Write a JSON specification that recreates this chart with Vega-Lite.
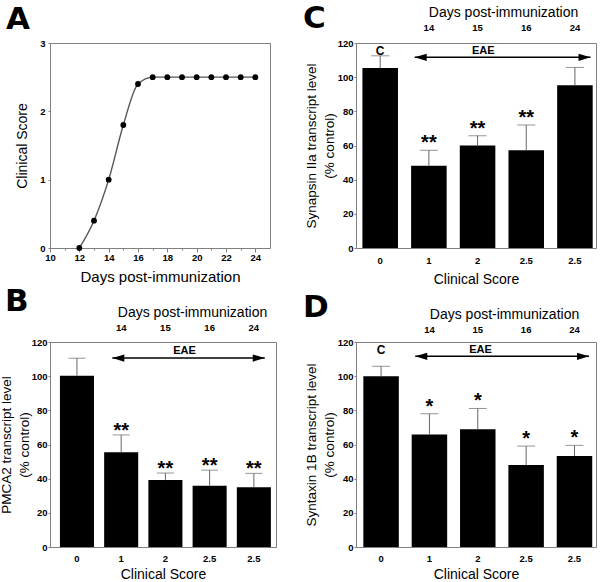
{
  "$schema": "https://vega.github.io/schema/vega-lite/v6.json",
  "padding": {"left": -2, "top": 2, "right": 0, "bottom": 0},
  "background": "white",
  "bounds": "flush",
  "columns": 2,
  "spacing": {"row": 94, "column": 80},
  "config": {
    "font": "Liberation Sans",
    "view": {"stroke": "#808080", "strokeWidth": 1},
    "axis": {
      "grid": false,
      "domain": false,
      "labelFont": "Liberation Sans",
      "labelFontWeight": "bold",
      "labelFontSize": 9.5,
      "labelColor": "#000",
      "labelOverlap": false,
      "labelFlush": false,
      "titleFont": "Liberation Sans",
      "titleFontWeight": "normal",
      "titleColor": "#000",
      "tickColor": "#808080",
      "tickSize": 2,
      "labelPadding": 1
    },
    "title": {"font": "DejaVu Sans", "fontSize": 31, "fontWeight": "bold", "anchor": "start", "frame": "group", "color": "#000"}
  },
  "concat": [
        {
          "width": 220,
          "height": 205,
          "title": {"text": "A", "dx": -44, "dy": 2},
          "data": {"values": [
            {"day": 12, "score": 0}, {"day": 13, "score": 0.4}, {"day": 14, "score": 1},
            {"day": 15, "score": 1.8}, {"day": 16, "score": 2.4}, {"day": 17, "score": 2.5},
            {"day": 18, "score": 2.5}, {"day": 19, "score": 2.5}, {"day": 20, "score": 2.5},
            {"day": 21, "score": 2.5}, {"day": 22, "score": 2.5}, {"day": 23, "score": 2.5},
            {"day": 24, "score": 2.5}
          ]},
          "layer": [
            {
              "mark": {"type": "line", "interpolate": "monotone", "color": "#555", "strokeWidth": 1.4},
              "encoding": {
                "x": {"field": "day", "type": "quantitative", "scale": {"domain": [10, 25], "nice": false},
                  "axis": {"values": [10, 11, 12, 13, 14, 15, 16, 17, 18, 19, 20, 21, 22, 23, 24], "tickCount": 30, "format": "d",
                    "labelExpr": "datum.value % 2 === 0 ? datum.label : ''",
                    "labelOverlap": false, "labelFlush": false,
                    "tickSize": {"condition": {"test": "datum.value % 2 === 0", "value": 4}, "value": 2},
                    "title": "Days post-immunization", "titleFontSize": 15, "titlePadding": 8, "labelPadding": 0}},
                "y": {"field": "score", "type": "quantitative", "scale": {"domain": [0, 3], "nice": false},
                  "axis": {"values": [0, 1, 2, 3], "tickCount": 10, "format": "d", "labelOverlap": false, "title": "Clinical Score", "titleFontSize": 14, "titlePadding": 10, "labelPadding": 3}}
              }
            },
            {
              "mark": {"type": "point", "filled": true, "color": "#000", "size": 34, "opacity": 1},
              "encoding": {
                "x": {"field": "day", "type": "quantitative"},
                "y": {"field": "score", "type": "quantitative"}
              }
            }
          ]
        },
        {
          "width": 240,
          "height": 205,
          "title": {"text": "C", "dx": -53, "dy": 34},
          "data": {"values": [
            {"id": 0, "mean": 105.3, "upper": 112.5, "sig": ""},
            {"id": 1, "mean": 48.2, "upper": 57.2, "sig": "**"},
            {"id": 2, "mean": 60, "upper": 65.7, "sig": "**"},
            {"id": 3, "mean": 57.2, "upper": 72, "sig": "**"},
            {"id": 4, "mean": 95.3, "upper": 105.7, "sig": ""}
          ]},
          "resolve": {"axis": {"x": "independent"}},
          "layer": [
            {
              "mark": {"type": "bar", "color": "#000"},
              "encoding": {
                "x": {"field": "id", "type": "ordinal",
                  "scale": {"paddingInner": 0.27, "paddingOuter": 0.1, "align": 0.66},
                  "axis": {"orient": "bottom", "labelAngle": 0, "labelExpr": "['0','1','2','2.5','2.5'][datum.value]",
                    "ticks": false, "labelPadding": 7, "title": "Clinical Score", "titleFontSize": 14, "titlePadding": 8}},
                "y": {"field": "mean", "type": "quantitative", "scale": {"domain": [0, 120], "nice": false},
                  "axis": {"values": [0, 20, 40, 60, 80, 100, 120], "tickCount": 20, "labelOverlap": false, "title": ["Synapsin IIa transcript level", "(% control)"],
                    "titleFontSize": 13.5, "titleLineHeight": 18, "titlePadding": 1}}
              }
            },
            {
              "mark": {"type": "rule", "color": "#666"},
              "encoding": {
                "x": {"field": "id", "type": "ordinal", "axis": null},
                "y": {"field": "mean", "type": "quantitative"},
                "y2": {"field": "upper"}
              }
            },
            {
              "mark": {"type": "tick", "color": "#666", "size": 18, "thickness": 1, "orient": "horizontal"},
              "encoding": {
                "x": {"field": "id", "type": "ordinal",
                  "axis": {"orient": "top", "labelAngle": 0,
                    "labelExpr": "['','14','15','16','24'][datum.value]",
                    "ticks": false, "labelPadding": 11, "title": "Days post-immunization", "titleFontSize": 14,
                    "titlePadding": 3, "titleX": 147}},
                "y": {"field": "upper", "type": "quantitative"}
              }
            },
            {
              "mark": {"type": "text", "fontSize": 20, "fontWeight": "bold", "baseline": "alphabetic", "dy": -1, "color": "#000"},
              "encoding": {
                "x": {"field": "id", "type": "ordinal", "axis": null},
                "y": {"field": "upper", "type": "quantitative"},
                "text": {"field": "sig"}
              }
            },
            {
              "data": {"values": [{"id": 1, "id2": 4, "v": 111.6, "t": 115.3, "ctrl": 0, "label": "EAE", "c": "C"}]},
              "layer": [
                {
                  "mark": {"type": "rule", "color": "#000", "strokeWidth": 1.5},
                  "encoding": {
                    "x": {"field": "id", "type": "ordinal", "bandPosition": 0.1, "axis": null},
                    "x2": {"field": "id2", "bandPosition": 0.94},
                    "y": {"field": "v", "type": "quantitative"}
                  }
                },
                {
                  "mark": {"type": "point", "shape": "M-1,0L1,-0.6L1,0.6Z", "filled": true, "color": "#000", "size": 144, "opacity": 1, "xOffset": 6},
                  "encoding": {
                    "x": {"field": "id", "type": "ordinal", "bandPosition": 0.1, "axis": null},
                    "y": {"field": "v", "type": "quantitative"}
                  }
                },
                {
                  "mark": {"type": "point", "shape": "M1,0L-1,-0.6L-1,0.6Z", "filled": true, "color": "#000", "size": 144, "opacity": 1, "xOffset": -6},
                  "encoding": {
                    "x": {"field": "id2", "type": "ordinal", "bandPosition": 0.94, "axis": null},
                    "y": {"field": "v", "type": "quantitative"}
                  }
                },
                {
                  "mark": {"type": "text", "fontSize": 11, "fontWeight": "bold", "baseline": "middle", "color": "#000"},
                  "encoding": {
                    "x": {"field": "id", "type": "ordinal", "bandPosition": 2.03, "axis": null},
                    "y": {"field": "t", "type": "quantitative"},
                    "text": {"field": "label"}
                  }
                },
                {
                  "mark": {"type": "text", "fontSize": 12, "fontWeight": "bold", "baseline": "middle", "color": "#000"},
                  "encoding": {
                    "x": {"field": "ctrl", "type": "ordinal", "axis": null},
                    "y": {"field": "t", "type": "quantitative"},
                    "text": {"field": "c"}
                  }
                }
              ]
            }
          ]
        },
        {
          "width": 226,
          "height": 205,
          "title": {"text": "B", "dx": -45, "dy": 17},
          "data": {"values": [
            {"id": 0, "mean": 100.3, "upper": 110.5, "sig": ""},
            {"id": 1, "mean": 55.4, "upper": 65.6, "sig": "**"},
            {"id": 2, "mean": 39.2, "upper": 43.3, "sig": "**"},
            {"id": 3, "mean": 35.9, "upper": 45, "sig": "**"},
            {"id": 4, "mean": 35, "upper": 43.1, "sig": "**"}
          ]},
          "resolve": {"axis": {"x": "independent"}},
          "layer": [
            {
              "mark": {"type": "bar", "color": "#000"},
              "encoding": {
                "x": {"field": "id", "type": "ordinal",
                  "scale": {"paddingInner": 0.23, "paddingOuter": 0.17, "align": 0.66},
                  "axis": {"orient": "bottom", "labelAngle": 0, "labelExpr": "['0','1','2','2.5','2.5'][datum.value]",
                    "ticks": false, "labelPadding": 6, "title": "Clinical Score", "titleFontSize": 14, "titlePadding": 5}},
                "y": {"field": "mean", "type": "quantitative", "scale": {"domain": [0, 120], "nice": false},
                  "axis": {"values": [0, 20, 40, 60, 80, 100, 120], "tickCount": 20, "labelOverlap": false, "title": ["PMCA2 transcript level", "(% control)"],
                    "titleFontSize": 13.5, "titleLineHeight": 18, "titlePadding": 0}}
              }
            },
            {
              "mark": {"type": "rule", "color": "#666"},
              "encoding": {
                "x": {"field": "id", "type": "ordinal", "axis": null},
                "y": {"field": "mean", "type": "quantitative"},
                "y2": {"field": "upper"}
              }
            },
            {
              "mark": {"type": "tick", "color": "#666", "size": 17, "thickness": 1, "orient": "horizontal"},
              "encoding": {
                "x": {"field": "id", "type": "ordinal",
                  "axis": {"orient": "top", "labelAngle": 0,
                    "labelExpr": "['','14','15','16','24'][datum.value]",
                    "ticks": false, "labelPadding": 10, "title": "Days post-immunization", "titleFontSize": 14,
                    "titlePadding": 3, "titleX": 142}},
                "y": {"field": "upper", "type": "quantitative"}
              }
            },
            {
              "mark": {"type": "text", "fontSize": 20, "fontWeight": "bold", "baseline": "alphabetic", "dy": 2, "color": "#000"},
              "encoding": {
                "x": {"field": "id", "type": "ordinal", "axis": null},
                "y": {"field": "upper", "type": "quantitative"},
                "text": {"field": "sig"}
              }
            },
            {
              "data": {"values": [{"id": 1, "id2": 4, "v": 110.6, "t": 115, "label": "EAE"}]},
              "layer": [
                {
                  "mark": {"type": "rule", "color": "#000", "strokeWidth": 1.5},
                  "encoding": {
                    "x": {"field": "id", "type": "ordinal", "bandPosition": 0.24, "axis": null},
                    "x2": {"field": "id2", "bandPosition": 0.82},
                    "y": {"field": "v", "type": "quantitative"}
                  }
                },
                {
                  "mark": {"type": "point", "shape": "M-1,0L1,-0.6L1,0.6Z", "filled": true, "color": "#000", "size": 144, "opacity": 1, "xOffset": 6},
                  "encoding": {
                    "x": {"field": "id", "type": "ordinal", "bandPosition": 0.24, "axis": null},
                    "y": {"field": "v", "type": "quantitative"}
                  }
                },
                {
                  "mark": {"type": "point", "shape": "M1,0L-1,-0.6L-1,0.6Z", "filled": true, "color": "#000", "size": 144, "opacity": 1, "xOffset": -6},
                  "encoding": {
                    "x": {"field": "id2", "type": "ordinal", "bandPosition": 0.82, "axis": null},
                    "y": {"field": "v", "type": "quantitative"}
                  }
                },
                {
                  "mark": {"type": "text", "fontSize": 11, "fontWeight": "bold", "baseline": "middle", "color": "#000"},
                  "encoding": {
                    "x": {"field": "id", "type": "ordinal", "bandPosition": 2.36, "axis": null},
                    "y": {"field": "t", "type": "quantitative"},
                    "text": {"field": "label"}
                  }
                }
              ]
            }
          ]
        },
        {
          "width": 240,
          "height": 205,
          "title": {"text": "D", "dx": -53, "dy": 21},
          "data": {"values": [
            {"id": 0, "mean": 99.9, "upper": 105.8, "sig": ""},
            {"id": 1, "mean": 65.9, "upper": 78, "sig": "*"},
            {"id": 2, "mean": 69, "upper": 81.1, "sig": "*"},
            {"id": 3, "mean": 48, "upper": 59.1, "sig": "*"},
            {"id": 4, "mean": 53.3, "upper": 59.5, "sig": "*"}
          ]},
          "resolve": {"axis": {"x": "independent"}},
          "layer": [
            {
              "mark": {"type": "bar", "color": "#000"},
              "encoding": {
                "x": {"field": "id", "type": "ordinal",
                  "scale": {"paddingInner": 0.266, "paddingOuter": 0.115, "align": 0.66},
                  "axis": {"orient": "bottom", "labelAngle": 0, "labelExpr": "['0','1','2','2.5','2.5'][datum.value]",
                    "ticks": false, "labelPadding": 6, "title": "Clinical Score", "titleFontSize": 14, "titlePadding": 5}},
                "y": {"field": "mean", "type": "quantitative", "scale": {"domain": [0, 120], "nice": false},
                  "axis": {"values": [0, 20, 40, 60, 80, 100, 120], "tickCount": 20, "labelOverlap": false, "title": ["Syntaxin 1B transcript level", "(% control)"],
                    "titleFontSize": 13.5, "titleLineHeight": 18, "titlePadding": 1}}
              }
            },
            {
              "mark": {"type": "rule", "color": "#666"},
              "encoding": {
                "x": {"field": "id", "type": "ordinal", "axis": null},
                "y": {"field": "mean", "type": "quantitative"},
                "y2": {"field": "upper"}
              }
            },
            {
              "mark": {"type": "tick", "color": "#666", "size": 18, "thickness": 1, "orient": "horizontal"},
              "encoding": {
                "x": {"field": "id", "type": "ordinal",
                  "axis": {"orient": "top", "labelAngle": 0,
                    "labelExpr": "['','14','15','16','24'][datum.value]",
                    "ticks": false, "labelPadding": 8, "title": "Days post-immunization", "titleFontSize": 14,
                    "titlePadding": 3, "titleX": 148}},
                "y": {"field": "upper", "type": "quantitative"}
              }
            },
            {
              "mark": {"type": "text", "fontSize": 20, "fontWeight": "bold", "baseline": "alphabetic", "dy": -1, "color": "#000"},
              "encoding": {
                "x": {"field": "id", "type": "ordinal", "axis": null},
                "y": {"field": "upper", "type": "quantitative"},
                "text": {"field": "sig"}
              }
            },
            {
              "data": {"values": [{"id": 1, "id2": 4, "v": 111.6, "t": 115.5, "ctrl": 0, "label": "EAE", "c": "C"}]},
              "layer": [
                {
                  "mark": {"type": "rule", "color": "#000", "strokeWidth": 1.5},
                  "encoding": {
                    "x": {"field": "id", "type": "ordinal", "bandPosition": 0.1, "axis": null},
                    "x2": {"field": "id2", "bandPosition": 0.91},
                    "y": {"field": "v", "type": "quantitative"}
                  }
                },
                {
                  "mark": {"type": "point", "shape": "M-1,0L1,-0.6L1,0.6Z", "filled": true, "color": "#000", "size": 144, "opacity": 1, "xOffset": 6},
                  "encoding": {
                    "x": {"field": "id", "type": "ordinal", "bandPosition": 0.1, "axis": null},
                    "y": {"field": "v", "type": "quantitative"}
                  }
                },
                {
                  "mark": {"type": "point", "shape": "M1,0L-1,-0.6L-1,0.6Z", "filled": true, "color": "#000", "size": 144, "opacity": 1, "xOffset": -6},
                  "encoding": {
                    "x": {"field": "id2", "type": "ordinal", "bandPosition": 0.91, "axis": null},
                    "y": {"field": "v", "type": "quantitative"}
                  }
                },
                {
                  "mark": {"type": "text", "fontSize": 11, "fontWeight": "bold", "baseline": "middle", "color": "#000"},
                  "encoding": {
                    "x": {"field": "id", "type": "ordinal", "bandPosition": 1.94, "axis": null},
                    "y": {"field": "t", "type": "quantitative"},
                    "text": {"field": "label"}
                  }
                },
                {
                  "mark": {"type": "text", "fontSize": 12, "fontWeight": "bold", "baseline": "middle", "color": "#000"},
                  "encoding": {
                    "x": {"field": "ctrl", "type": "ordinal", "axis": null},
                    "y": {"field": "t", "type": "quantitative"},
                    "text": {"field": "c"}
                  }
                }
              ]
            }
          ]
        }
  ]
}
